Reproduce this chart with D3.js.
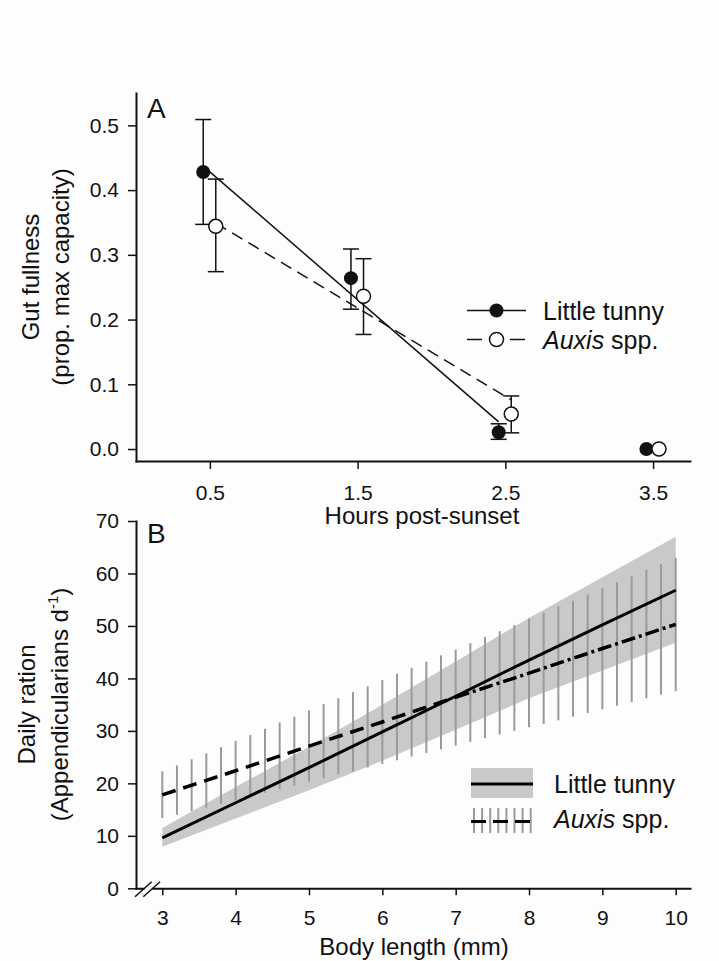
<!DOCTYPE html>
<html>
<head>
<meta charset="utf-8">
<script src="https://cdn.jsdelivr.net/npm/d3@7"></script>
<style>
  body { margin: 0; background: #fdfdfd; }
  svg { display: block; }
  text { font-family: "Liberation Sans", Arial, sans-serif; fill: #111; }
</style>
</head>
<body>
<svg width="719" height="961"></svg>
<script>
// ---- panel A data: gut fullness vs hours post-sunset
const hours = [0.5, 1.5, 2.5, 3.5];
const tunnyMean = [0.428, 0.264, 0.026, 0.0];
const tunnyLow = [0.347, 0.216, 0.015, 0.0];
const tunnyHigh = [0.509, 0.309, 0.039, 0.0];
const auxisMean = [0.344, 0.236, 0.054, 0.0];
const auxisLow = [0.274, 0.177, 0.025, 0.0];
const auxisHigh = [0.417, 0.294, 0.082, 0.0];
const fitHours = [0.5, 2.5];
const tunnyFit = [0.437, 0.042];
const auxisFit = [0.349, 0.076];
const hourTicks = [0.5, 1.5, 2.5, 3.5];
const gutTicks = [0, 0.1, 0.2, 0.3, 0.4, 0.5];

// ---- panel B data: daily ration vs body length
const bodyLength = [3, 4, 5, 6, 7, 8, 9, 10];
const tunnyRation = [9.6, 16.3, 23.0, 29.8, 36.6, 43.5, 50.2, 56.8];
const tunnyUpper = [11.5, 19.3, 27.0, 35.0, 43.2, 51.5, 59.3, 67.0];
const tunnyLower = [7.9, 13.3, 18.7, 24.3, 30.2, 36.2, 41.5, 46.8];
const auxisRation = [17.8, 22.4, 27.1, 31.7, 36.4, 41.0, 45.7, 50.3];
const barLength = [3.0, 3.2, 3.4, 3.6, 3.8, 4.0, 4.2, 4.4, 4.6, 4.8, 5.0, 5.2,
  5.4, 5.6, 5.8, 6.0, 6.2, 6.4, 6.6, 6.8, 7.0, 7.2, 7.4, 7.6, 7.8, 8.0, 8.2,
  8.4, 8.6, 8.8, 9.0, 9.2, 9.4, 9.6, 9.8, 10.0];
const barLow = [13.4, 14.0, 14.7, 15.4, 16.1, 16.8, 17.5, 18.2, 18.9, 19.6, 20.3,
  21.0, 21.7, 22.3, 23.0, 23.7, 24.4, 25.1, 25.8, 26.5, 27.2, 27.9, 28.6, 29.3,
  30.0, 30.7, 31.3, 32.0, 32.7, 33.4, 34.1, 34.8, 35.5, 36.2, 36.9, 37.6];
const barHigh = [22.3, 23.4, 24.6, 25.7, 26.9, 28.1, 29.2, 30.4, 31.6, 32.7, 33.9,
  35.1, 36.2, 37.4, 38.5, 39.7, 40.9, 42.0, 43.2, 44.4, 45.5, 46.7, 47.9, 49.0,
  50.2, 51.4, 52.5, 53.7, 54.8, 56.0, 57.2, 58.3, 59.5, 60.7, 61.8, 63.0];
const lengthTicks = [3, 4, 5, 6, 7, 8, 9, 10];
const rationTicks = [0, 10, 20, 30, 40, 50, 60, 70];

const ink = "#111";
const svg = d3.select("svg");

function styleAxis(g, size) {
  g.attr("font-size", size).attr("font-family", null);
  g.select(".domain").attr("stroke", ink).attr("stroke-width", 2).attr("stroke-linecap", "square");
  g.selectAll(".tick line").attr("stroke", ink).attr("stroke-width", 1.5);
  g.selectAll(".tick text").attr("fill", ink);
}

// ================= Panel A =================
const xA = d3.scaleLinear().domain([0, 3.75]).range([136, 690]);
const yA = d3.scaleLinear().domain([-0.0185, 0.55]).range([461, 93]);
const tunnyOff = -0.045, auxisOff = 0.04;

svg.append("g")
  .attr("transform", "translate(0,461)")
  .call(d3.axisBottom(xA).tickValues(hourTicks).tickSize(8).tickSizeOuter(0)
    .tickPadding(16).tickFormat(d3.format(".1f")))
  .call(g => styleAxis(g, 21));

svg.append("g")
  .attr("transform", "translate(136,0)")
  .call(d3.axisLeft(yA).tickValues(gutTicks).tickSize(8).tickSizeOuter(0)
    .tickPadding(9).tickFormat(d3.format(".1f")))
  .call(g => styleAxis(g, 21));

// fitted lines
const fitLine = off => d3.line().x(d => xA(d[0] + off)).y(d => yA(d[1]));
svg.append("path")
  .datum(fitHours.map((h, i) => [h, tunnyFit[i]]))
  .attr("d", fitLine(tunnyOff))
  .attr("fill", "none").attr("stroke", ink).attr("stroke-width", 1.5);
svg.append("path")
  .datum(fitHours.map((h, i) => [h, auxisFit[i]]))
  .attr("d", fitLine(auxisOff))
  .attr("fill", "none").attr("stroke", ink).attr("stroke-width", 1.5)
  .attr("stroke-dasharray", "12,7");

function errorBars(means, lows, highs, off) {
  const data = hours.map((h, i) => ({ h, lo: lows[i], hi: highs[i] }))
    .filter(d => d.hi > d.lo);
  const g = svg.append("g").attr("stroke", ink).attr("stroke-width", 1.5);
  g.selectAll(".v").data(data).join("line")
    .attr("x1", d => xA(d.h + off)).attr("x2", d => xA(d.h + off))
    .attr("y1", d => yA(d.lo)).attr("y2", d => yA(d.hi));
  g.selectAll(".t").data(data).join("line")
    .attr("x1", d => xA(d.h + off) - 8).attr("x2", d => xA(d.h + off) + 8)
    .attr("y1", d => yA(d.hi)).attr("y2", d => yA(d.hi));
  g.selectAll(".b").data(data).join("line")
    .attr("x1", d => xA(d.h + off) - 8).attr("x2", d => xA(d.h + off) + 8)
    .attr("y1", d => yA(d.lo)).attr("y2", d => yA(d.lo));
}
errorBars(tunnyMean, tunnyLow, tunnyHigh, tunnyOff);
errorBars(auxisMean, auxisLow, auxisHigh, auxisOff);

svg.append("g").selectAll("circle")
  .data(hours.map((h, i) => [h, tunnyMean[i]]))
  .join("circle")
  .attr("cx", d => xA(d[0] + tunnyOff)).attr("cy", d => yA(d[1]))
  .attr("r", 7).attr("fill", ink);
svg.append("g").selectAll("circle")
  .data(hours.map((h, i) => [h, auxisMean[i]]))
  .join("circle")
  .attr("cx", d => xA(d[0] + auxisOff)).attr("cy", d => yA(d[1]))
  .attr("r", 7).attr("fill", "#fff").attr("stroke", ink).attr("stroke-width", 1.5);

// legend A
const legA = svg.append("g");
legA.append("line").attr("x1", 467).attr("x2", 526).attr("y1", 310.5).attr("y2", 310.5)
  .attr("stroke", ink).attr("stroke-width", 1.5);
legA.append("circle").attr("cx", 496.5).attr("cy", 310.5).attr("r", 7).attr("fill", ink);
legA.append("line").attr("x1", 467).attr("x2", 482).attr("y1", 339.5).attr("y2", 339.5)
  .attr("stroke", ink).attr("stroke-width", 1.5);
legA.append("line").attr("x1", 510).attr("x2", 525).attr("y1", 339.5).attr("y2", 339.5)
  .attr("stroke", ink).attr("stroke-width", 1.5);
legA.append("circle").attr("cx", 496.5).attr("cy", 339.5).attr("r", 7)
  .attr("fill", "#fff").attr("stroke", ink).attr("stroke-width", 1.5);
legA.append("text").attr("x", 543).attr("y", 320).attr("font-size", 25).text("Little tunny");
const auxA = legA.append("text").attr("x", 543).attr("y", 348.5).attr("font-size", 25);
auxA.append("tspan").attr("font-style", "italic").text("Auxis");
auxA.append("tspan").text(" spp.");

// titles A
svg.append("text").attr("x", 147).attr("y", 118).attr("font-size", 28).text("A");
svg.append("text").attr("x", 422).attr("y", 524).attr("text-anchor", "middle")
  .attr("font-size", 24).text("Hours post-sunset");
svg.append("text").attr("transform", "translate(39,277) rotate(-90)")
  .attr("text-anchor", "middle").attr("font-size", 24).text("Gut fullness");
svg.append("text").attr("transform", "translate(69,277) rotate(-90)")
  .attr("text-anchor", "middle").attr("font-size", 24).text("(prop. max capacity)");

// ================= Panel B =================
const xB = d3.scaleLinear().domain([3, 10]).range([162.3, 675.7]);
xB.domain([xB.invert(136), xB.invert(690)]).range([136, 690]);
const yB = d3.scaleLinear().domain([0, 70]).range([888.3, 521]);

svg.append("g")
  .attr("transform", "translate(0,888.3)")
  .call(d3.axisBottom(xB).tickValues(lengthTicks).tickSize(7).tickSizeOuter(0)
    .tickPadding(15).tickFormat(d3.format("d")))
  .call(g => styleAxis(g, 21));

svg.append("g")
  .attr("transform", "translate(136,0)")
  .call(d3.axisLeft(yB).tickValues(rationTicks).tickSize(8).tickSizeOuter(0)
    .tickPadding(9).tickFormat(d3.format("d")))
  .call(g => styleAxis(g, 21));

// axis break
svg.append("line").attr("x1", 144.5).attr("x2", 152.5).attr("y1", 888.3).attr("y2", 888.3)
  .attr("stroke", "#fdfdfd").attr("stroke-width", 4);
svg.append("g").attr("stroke", ink).attr("stroke-width", 1.5)
  .selectAll("line").data([0, 8.3]).join("line")
  .attr("x1", d => 135 + d).attr("y1", 896.7)
  .attr("x2", d => 151.7 + d).attr("y2", 881.7);

// little tunny band
svg.append("path")
  .datum(bodyLength.map((x, i) => ({ x, lo: tunnyLower[i], hi: tunnyUpper[i] })))
  .attr("d", d3.area().x(d => xB(d.x)).y0(d => yB(d.lo)).y1(d => yB(d.hi)))
  .attr("fill", "#c9c9c9");

// auxis error bars
svg.append("g").attr("stroke", "#9a9a9a").attr("stroke-width", 2)
  .selectAll("line")
  .data(barLength.map((x, i) => ({ x, lo: barLow[i], hi: barHigh[i] })))
  .join("line")
  .attr("x1", d => xB(d.x)).attr("x2", d => xB(d.x))
  .attr("y1", d => yB(d.lo)).attr("y2", d => yB(d.hi));

const lineB = d3.line().x(d => xB(d[0])).y(d => yB(d[1]));
svg.append("path")
  .datum(bodyLength.map((x, i) => [x, tunnyRation[i]]))
  .attr("d", lineB)
  .attr("fill", "none").attr("stroke", "#000").attr("stroke-width", 3);

const auxisPts = bodyLength.map((x, i) => [x, auxisRation[i]]);
svg.append("path")
  .datum(auxisPts.filter(d => d[0] <= 7))
  .attr("d", lineB)
  .attr("fill", "none").attr("stroke", "#000").attr("stroke-width", 3.5)
  .attr("stroke-dasharray", "14,8");
svg.append("path")
  .datum(auxisPts.filter(d => d[0] >= 7))
  .attr("d", lineB)
  .attr("fill", "none").attr("stroke", "#000").attr("stroke-width", 3.5)
  .attr("stroke-dasharray", "14,4,3,4");

// legend B
const legB = svg.append("g");
legB.append("rect").attr("x", 471).attr("y", 768).attr("width", 62).attr("height", 30)
  .attr("fill", "#c9c9c9");
legB.append("line").attr("x1", 471).attr("x2", 533).attr("y1", 784).attr("y2", 784)
  .attr("stroke", "#000").attr("stroke-width", 3);
legB.append("g").attr("stroke", "#9a9a9a").attr("stroke-width", 2)
  .selectAll("line").data(d3.range(8)).join("line")
  .attr("x1", d => 474 + d * 8.1).attr("x2", d => 474 + d * 8.1)
  .attr("y1", 808).attr("y2", 833);
legB.append("line").attr("x1", 471).attr("x2", 533).attr("y1", 821.5).attr("y2", 821.5)
  .attr("stroke", "#000").attr("stroke-width", 3).attr("stroke-dasharray", "15,7");
legB.append("text").attr("x", 554).attr("y", 793).attr("font-size", 25).text("Little tunny");
const auxB = legB.append("text").attr("x", 554).attr("y", 828).attr("font-size", 25);
auxB.append("tspan").attr("font-style", "italic").text("Auxis");
auxB.append("tspan").text(" spp.");

// titles B
svg.append("text").attr("x", 147).attr("y", 543).attr("font-size", 28).text("B");
svg.append("text").attr("x", 414).attr("y", 955).attr("text-anchor", "middle")
  .attr("font-size", 24).text("Body length (mm)");
svg.append("text").attr("transform", "translate(35,704.5) rotate(-90)")
  .attr("text-anchor", "middle").attr("font-size", 24).text("Daily ration");
const ylab = svg.append("text").attr("transform", "translate(68,704.5) rotate(-90)")
  .attr("text-anchor", "middle").attr("font-size", 24);
ylab.append("tspan").text("(Appendicularians d");
ylab.append("tspan").attr("font-size", 15).attr("dy", -10).text("-1");
ylab.append("tspan").attr("dy", 10).text(")");
</script>
</body>
</html>
